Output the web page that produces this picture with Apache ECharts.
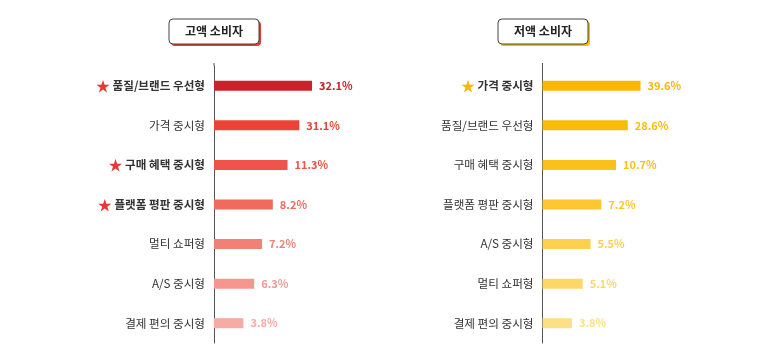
<!DOCTYPE html>
<html><head><meta charset="utf-8">
<script src="https://cdn.jsdelivr.net/npm/echarts@6/dist/echarts.min.js"></script>
<style>html,body{margin:0;padding:0;background:#fff}#c{width:762px;height:360px}</style>
</head><body><div id="c"></div>
<script>
// Left panel: 고액 소비자
const highTitle = '고액 소비자';
const highCategories = ['품질/브랜드 우선형','가격 중시형','구매 혜택 중시형','플랫폼 평판 중시형','멀티 쇼퍼형','A/S 중시형','결제 편의 중시형'];
const highValues = [32.1, 31.1, 11.3, 8.2, 7.2, 6.3, 3.8];
const highStarred = [true, false, true, true, false, false, false];
// Right panel: 저액 소비자
const lowTitle = '저액 소비자';
const lowCategories = ['가격 중시형','품질/브랜드 우선형','구매 혜택 중시형','플랫폼 평판 중시형','A/S 중시형','멀티 쇼퍼형','결제 편의 중시형'];
const lowValues = [39.6, 28.6, 10.7, 7.2, 5.5, 5.1, 3.8];
const lowStarred = [true, false, false, false, false, false, false];
// Bar lengths as drawn in the picture (rank-based, relative index)
const barLength = [100, 87, 75, 60, 49, 41, 30];

const highColors = ['#c8232a','#ec4337','#ef5349','#f06a5e','#f28077','#f5978f','#f7aba5'];
const lowColors = ['#f9b800','#fabc08','#fbc11a','#fcc733','#fdd04f','#fdd767','#fddf86'];

const FONT = '"Noto Sans CJK KR", "Noto Sans", sans-serif';
const chart = echarts.init(document.getElementById('c'), null, {renderer:'canvas'});

function panel(idx, left, cats, vals, starred, colors, starColor){
  const grid = {left: left, top: 66, width: 150, height: 277, containLabel: false};
  const yAxis = {
    type: 'category', gridIndex: idx, data: cats, inverse: true,
    axisLine: {show: true, lineStyle: {color: '#555', width: 1}},
    axisTick: {show: false},
    axisLabel: {
      margin: 9, fontFamily: FONT, fontSize: 11.6, color: '#333',
      formatter: function(v, i){
        return starred[i] ? '{s|★} {b|' + v + '}' : v;
      },
      rich: {
        s: {color: starColor, fontSize: 14, fontFamily: FONT},
        b: {fontWeight: 'bold', color: '#333', fontSize: 11.6, fontFamily: FONT}
      }
    }
  };
  const xAxis = {type: 'value', gridIndex: idx, min: 0, max: 153, show: false};
  const series = {
    type: 'bar', xAxisIndex: idx, yAxisIndex: idx, barWidth: 10,
    data: barLength.map((b, i) => ({value: b, itemStyle: {color: colors[i]},
      label: {color: colors[i]}})),
    label: {
      show: true, position: 'right', distance: 7,
      fontFamily: FONT, fontSize: 11, fontWeight: 'bold',
      formatter: p => vals[p.dataIndex].toFixed(1) + '%'
    },
    animation: false
  };
  return {grid, xAxis, yAxis, series};
}

function titleBox(cx, text, shadow){
  return [
    {type: 'rect', shape: {x: cx - 45 + 2, y: 21, width: 90, height: 25, r: 4},
      style: {fill: shadow}},
    {type: 'rect', shape: {x: cx - 45, y: 19, width: 90, height: 25, r: 4},
      style: {fill: '#fff', stroke: '#444', lineWidth: 1}},
    {type: 'text', x: cx, y: 31.5, style: {text: text, fontFamily: FONT, fontSize: 12,
      fontWeight: 'bold', fill: '#222', align: 'center', verticalAlign: 'middle'}}
  ];
}

const p1 = panel(0, 214, highCategories, highValues, highStarred, highColors, '#e53935');
const p2 = panel(1, 542.5, lowCategories, lowValues, lowStarred, lowColors, '#f9b800');

chart.setOption({
  animation: false,
  grid: [p1.grid, p2.grid],
  xAxis: [p1.xAxis, p2.xAxis],
  yAxis: [p1.yAxis, p2.yAxis],
  series: [p1.series, p2.series],
  graphic: [].concat(titleBox(214, highTitle, '#e53935'), titleBox(543, lowTitle, '#f9b800'),
    [{type:'line', shape:{x1:214, y1:63, x2:214, y2:66}, style:{stroke:'#555', lineWidth:1}},
     {type:'line', shape:{x1:542.5, y1:63, x2:542.5, y2:66}, style:{stroke:'#555', lineWidth:1}}])
});
</script></body></html>
